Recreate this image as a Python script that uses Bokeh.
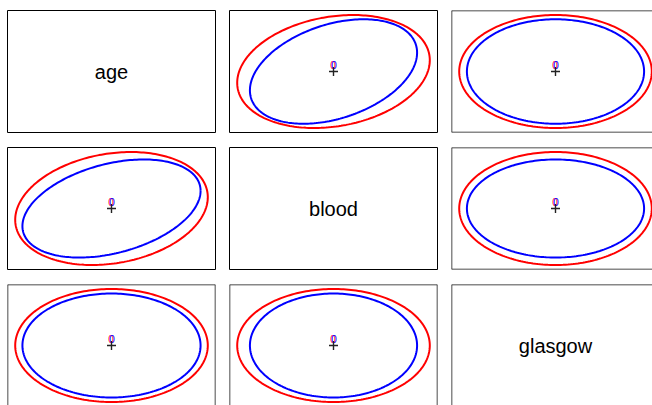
import numpy as np
from bokeh.plotting import figure
from bokeh.layouts import gridplot
from bokeh.models import Span, Range1d
from bokeh.core.properties import value
from bokeh.embed import file_html
from bokeh.resources import INLINE

# ---- data (standardised units) ----
variables = ["age", "blood", "glasgow"]
means = [0.0, 0.0, 0.0]
sd_red = [1.0, 1.0, 1.0]
sd_blue = [0.925, 0.868, 0.92]
# correlations: (age, blood), (age, glasgow), (blood, glasgow)
cor_red = [0.20, 0.0, 0.0]
cor_blue = [0.36, 0.0, 0.0]
radius = 2.45
group_colors = ["#FF0000", "#0000FF"]
group_labels = ["0", "0"]

def corr(r, i, j):
    if i == j:
        return 1.0
    key = tuple(sorted((i, j)))
    idx = {(0, 1): 0, (0, 2): 1, (1, 2): 2}[key]
    return r[idx]

def ellipse(i, j, sd, r):
    sx, sy = sd[i], sd[j]
    rho = corr(r, i, j)
    S = np.array([[sx * sx, rho * sx * sy], [rho * sx * sy, sy * sy]])
    L = np.linalg.cholesky(S)
    t = np.linspace(0, 2 * np.pi, 241)
    pts = radius * L @ np.vstack([np.cos(t), np.sin(t)])
    return means[i] + pts[0], means[j] + pts[1]

# full range of a variable (4% padding like R)
def full_range(k):
    half = radius * max(sd_red[k], sd_blue[k])
    lo, hi = means[k] - half, means[k] + half
    span = hi - lo
    return lo - 0.04 * span, hi + 0.04 * span

FRAME_W, FRAME_H = 208, 122
col_frame_w = [208, 208, 201]
row_frame_h = [122, 122, 121]
border_left = [7, 1, 1]
border_right = [13, 13, 0]
border_top = [10, 1, 1]
border_bottom = [14, 14, 0]

rows = []
for ri in range(3):
    row = []
    for ci in range(3):
        xl, xh = full_range(ci)
        yl, yh = full_range(ri)
        # cropped panels at the window edge
        xh_v = xl + (xh - xl) * col_frame_w[ci] / FRAME_W
        yl_v = yh - (yh - yl) * row_frame_h[ri] / FRAME_H
        fw = col_frame_w[ci] + border_left[ci] + border_right[ci]
        fh = row_frame_h[ri] + border_top[ri] + border_bottom[ri]
        p = figure(width=fw, height=fh, output_backend="svg", toolbar_location=None,
                   x_axis_type=None, y_axis_type=None,
                   x_range=Range1d(xl, xh_v), y_range=Range1d(yl_v, yh),
                   min_border_left=border_left[ci], min_border_right=border_right[ci],
                   min_border_top=border_top[ri], min_border_bottom=border_bottom[ri],
                   background_fill_color="white", border_fill_color="white")
        p.grid.visible = False
        cropped = (ci == 2) or (ri == 2)
        if cropped:
            p.outline_line_color = None
            kw = dict(line_color="#111111", line_width=1.5)
            p.add_layout(Span(location=xl, dimension="height", **kw))
            p.add_layout(Span(location=yh, dimension="width", **kw))
            if ci < 2:
                p.add_layout(Span(location=xh, dimension="height", **kw))
            if ri < 2:
                p.add_layout(Span(location=yl, dimension="width", **kw))
        else:
            p.outline_line_color = "black"
            p.outline_line_width = 1
            p.outline_line_alpha = 1.0

        if ri == ci:
            p.text(x=[means[ci]], y=[means[ri]], text=[variables[ci]],
                   text_align="center", text_baseline="middle",
                   text_font=value("Liberation Sans"), text_font_size="20px",
                   text_color="black")
        else:
            for sd, r, col in [(sd_red, cor_red, group_colors[0]), (sd_blue, cor_blue, group_colors[1])]:
                ex, ey = ellipse(ci, ri, sd, r)
                p.line(ex, ey, line_color=col, line_width=2)
            for k, (col, lab) in enumerate(zip(group_colors, group_labels)):
                p.text(x=[means[ci]], y=[means[ri]], text=[lab],
                       text_align="center", text_baseline="middle",
                       x_offset=(-0.5 + k), y_offset=-7,
                       text_font=value("Liberation Sans"), text_font_size="10px",
                       text_color=col)
            p.scatter(x=[means[ci]], y=[means[ri]], marker="cross", size=9,
                      line_color="#222222", line_width=1.4)
        row.append(p)
    rows.append(row)

grid = gridplot(rows, toolbar_location=None)
open("out.html", "w").write(file_html(grid, INLINE))
